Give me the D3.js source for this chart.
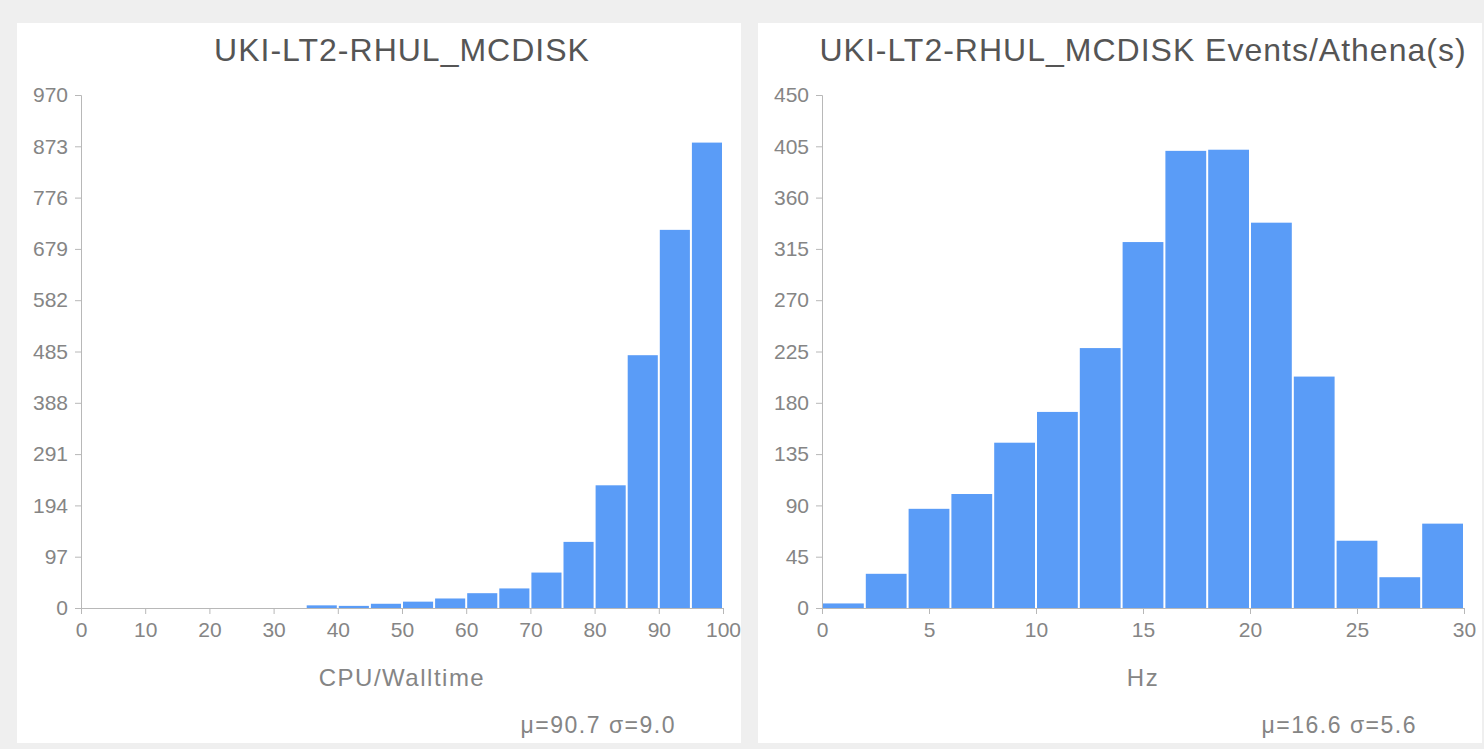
<!DOCTYPE html>
<html>
<head>
<meta charset="utf-8">
<script src="https://cdn.jsdelivr.net/npm/d3@7"></script>
<style>
    body { margin: 0; background: #efefef; }
    svg { display: block; }
    .axis path, .axis line { stroke: #b8b8b8; }
    .axis text { fill: #858585; font-size: 21px; font-family: "Liberation Sans", Arial, sans-serif; }
</style>
</head>
<body>
<svg id="vis" width="1484" height="749"></svg>
<script>
// left histogram: CPU/Walltime in 5% bins
const cpuBins = [0, 5, 10, 15, 20, 25, 30, 35, 40, 45, 50, 55, 60, 65, 70, 75, 80, 85, 90, 95];
const cpuCounts = [0, 0, 0, 0, 0, 0, 0, 5, 4, 8, 12, 18, 28, 37, 67, 125, 232, 478, 715, 880];
const cpuYTicks = [0, 97, 194, 291, 388, 485, 582, 679, 776, 873, 970];
const cpuXTicks = [0, 10, 20, 30, 40, 50, 60, 70, 80, 90, 100];

// right histogram: Events/Athena(s) in 2 Hz bins
const hzBins = [0, 2, 4, 6, 8, 10, 12, 14, 16, 18, 20, 22, 24, 26, 28];
const hzCounts = [4, 30, 87, 100, 145, 172, 228, 321, 401, 402, 338, 203, 59, 27, 74];
const hzYTicks = [0, 45, 90, 135, 180, 225, 270, 315, 360, 405, 450];
const hzXTicks = [0, 5, 10, 15, 20, 25, 30];

const barColor = "#5a9cf7";
const fontFamily = "Liberation Sans, Arial, sans-serif";

let panels = [
    {
        left: 17, title: "UKI-LT2-RHUL_MCDISK", xLabel: "CPU/Walltime", stats: "\u03bc=90.7 \u03c3=9.0",
        bins: cpuBins, counts: cpuCounts, binWidth: 5, xMax: 100, yTicks: cpuYTicks, xTicks: cpuXTicks
    },
    {
        left: 758, title: "UKI-LT2-RHUL_MCDISK Events/Athena(s)", xLabel: "Hz", stats: "\u03bc=16.6 \u03c3=5.6",
        bins: hzBins, counts: hzCounts, binWidth: 2, xMax: 30, yTicks: hzYTicks, xTicks: hzXTicks
    }
];

const svg = d3.select("svg#vis");

let panelWidth = 724;
let panelTop = 23;
let panelHeight = 720;

let margin = {
    top:    72,
    right:  18,
    bottom: 135,
    left:   64
};

let plotWidth = panelWidth - margin.left - margin.right;
let plotHeight = panelHeight - margin.top - margin.bottom;

drawPanel = function(p) {
    let g = svg.append("g")
        .attr("transform", "translate(" + p.left + "," + panelTop + ")");

    g.append("rect")
        .attr("width", panelWidth)
        .attr("height", panelHeight)
        .attr("fill", "#ffffff");

    let plot = g.append("g")
        .attr("transform", "translate(" + margin.left + "," + margin.top + ")");

    let xScale = d3.scaleLinear()
        .domain([0, p.xMax])
        .range([0, plotWidth]);

    let yScale = d3.scaleLinear()
        .domain([0, p.yTicks[p.yTicks.length - 1]])
        .range([plotHeight, 0]);

    plot.selectAll("rect.bar")
        .data(p.bins)
        .enter()
        .append("rect")
        .attr("class", "bar")
        .attr("x", d => xScale(d) + 1)
        .attr("width", d => xScale(d + p.binWidth) - xScale(d) - 2)
        .attr("y", (d, i) => yScale(p.counts[i]))
        .attr("height", (d, i) => plotHeight - yScale(p.counts[i]))
        .attr("fill", barColor);

    plot.append("g")
        .attr("class", "axis")
        .attr("transform", "translate(0," + plotHeight + ")")
        .call(d3.axisBottom(xScale).tickValues(p.xTicks).tickSize(6).tickPadding(8));

    plot.append("g")
        .attr("class", "axis")
        .call(d3.axisLeft(yScale).tickValues(p.yTicks).tickSize(6).tickPadding(7));

    // title
    g.append("text")
        .attr("x", margin.left + plotWidth / 2)
        .attr("y", 38)
        .attr("text-anchor", "middle")
        .attr("font-family", fontFamily)
        .attr("font-size", 32)
        .attr("letter-spacing", 1)
        .attr("fill", "#555555")
        .text(p.title);

    g.append("text")
        .attr("x", margin.left + plotWidth / 2)
        .attr("y", 663)
        .attr("text-anchor", "middle")
        .attr("font-family", fontFamily)
        .attr("font-size", 24)
        .attr("letter-spacing", 1.5)
        .attr("fill", "#858585")
        .text(p.xLabel);

    g.append("text")
        .attr("x", margin.left + plotWidth - 47)
        .attr("y", 710)
        .attr("text-anchor", "end")
        .attr("font-family", fontFamily)
        .attr("font-size", 23)
        .attr("letter-spacing", 1.5)
        .attr("fill", "#858585")
        .text(p.stats);
}

for (let i = 0; i < panels.length; i++) {
    drawPanel(panels[i]);
}
</script>
</body>
</html>
